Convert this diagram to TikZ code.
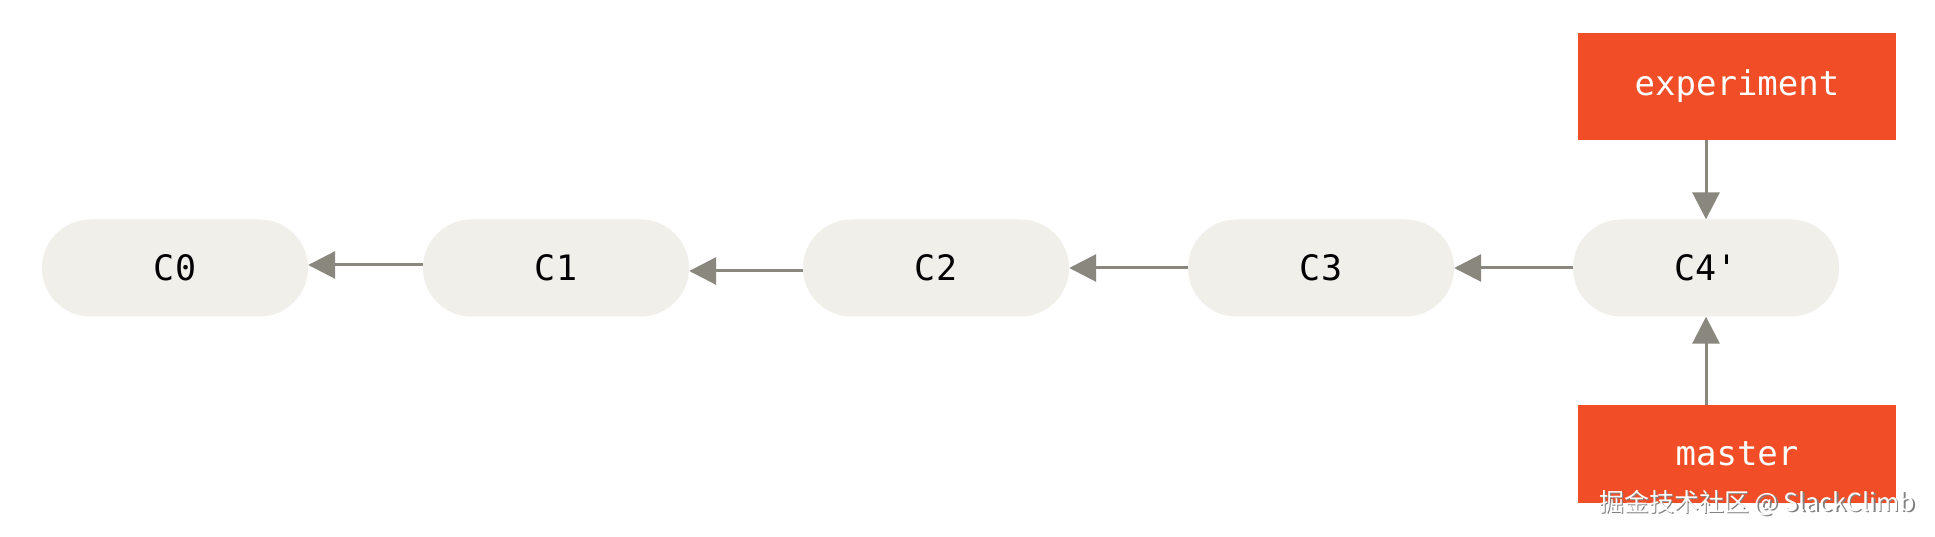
\documentclass[tikz,border=0pt]{standalone}
\usepackage{fontspec}
\setmonofont{DejaVu Sans Mono}
\newfontfamily\cjk{Noto Sans CJK SC}
\usetikzlibrary{arrows.meta,shapes.misc}
\definecolor{commitfill}{RGB}{240,239,234}
\definecolor{gitorange}{RGB}{241,78,40}
\definecolor{arrowgray}{RGB}{138,135,126}
\begin{document}
\begin{tikzpicture}[x=1pt,y=1pt,
  commit/.style={rounded rectangle, fill=commitfill, minimum width=266pt, minimum height=97pt, inner sep=0pt, font=\ttfamily\fontsize{35}{42}\selectfont, text=black},
  branch/.style={fill=gitorange, minimum width=318pt, inner sep=0pt, font=\ttfamily\fontsize{34}{40}\selectfont, text=white},
  arr/.style={draw=arrowgray, line width=3pt, -{Triangle[length=27pt,width=27pt]}},
  wmark/.style={font=\cjk\fontsize{25}{29}\selectfont}]
\fill[white] (0,0) rectangle (1935,537);
\useasboundingbox (0,0) rectangle (1935,537);
\node[commit] (c0) at (175,269) {C0};
\node[commit] (c1) at (556,269) {C1};
\node[commit] (c2) at (936,269) {C2};
\node[commit] (c3) at (1321,269) {C3};
\node[commit] (c4) at (1706,269) {C4'};
\node[branch, minimum height=107pt] (exp) at (1737,450.5) {experiment};
\node[branch, minimum height=98pt] (master) at (1737,83) {master};
\draw[arr] ([yshift=3pt]c1.west) -- ([yshift=3pt]c0.east);
\draw[arr] ([yshift=-3pt]c2.west) -- ([yshift=-3pt]c1.east);
\draw[arr] (c3.west) -- (c2.east);
\draw[arr] (c4.west) -- (c3.east);
\draw[arr] (c4.north |- exp.south) -- (c4.north);
\draw[arr] (c4.south |- master.north) -- (c4.south);
\node[wmark, text=gray] (wmshadow) at (1758.5,32.5) {掘金技术社区 @ SlackClimb};
\node[wmark, text=white] (wm) at (1757,34) {掘金技术社区 @ SlackClimb};
\end{tikzpicture}
\end{document}
